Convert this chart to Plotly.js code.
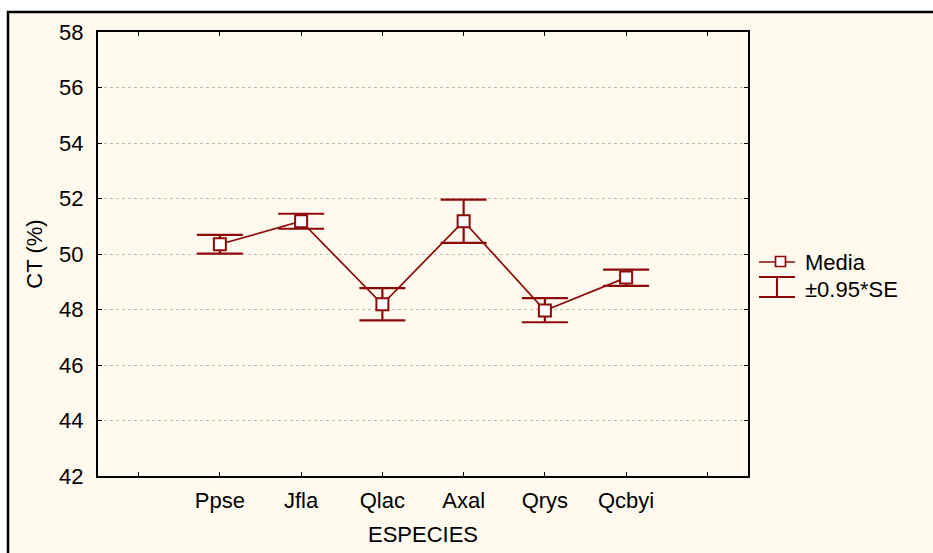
<!DOCTYPE html>
<html>
<head>
<meta charset="utf-8">
<script src="https://cdn.plot.ly/plotly-3.0.1.min.js"></script>
<style>
html,body{margin:0;padding:0;background:#ffffff;}
#chart{width:933px;height:553px;}
</style>
</head>
<body>
<div id="chart"></div>
<script>
// ---- data ----
const categories = ["Ppse", "Jfla", "Qlac", "Axal", "Qrys", "Qcbyi"];
const means      = [50.35, 51.18, 48.19, 51.18, 47.96, 49.15];
const errUpper   = [0.34, 0.27, 0.58, 0.78, 0.45, 0.29];
const errLower   = [0.34, 0.27, 0.58, 0.78, 0.42, 0.30];
const yTicks     = [42, 44, 46, 48, 50, 52, 54, 56, 58];
const legendLabels = ["Media", "±0.95*SE"];

// ---- layout geometry ----
const W = 933, H = 553;
const M = {l: 98, r: 185, t: 32, b: 77};
const PW = W - M.l - M.r, PH = H - M.t - M.b;
const px = x => (x - M.l) / PW;
const py = y => 1 - (y - M.t) / PH;

const red = "#8B0A0A";
const cream = "#FFF9EE";
const FONT = "Liberation Sans, Arial, sans-serif";
const FS = 22;

const xIdx = categories.map((c, i) => i + 1);
const tickvals = [];
const ticktext = [];
for (let i = 0; i <= categories.length + 1; i++) {
  tickvals.push(i);
  ticktext.push(i >= 1 && i <= categories.length ? categories[i - 1] : "");
}

const trace = {
  x: xIdx,
  y: means,
  type: "scatter",
  mode: "lines+markers",
  line: {color: red, width: 1.7},
  marker: {symbol: "square", size: 12, color: "#ffffff", line: {color: red, width: 2}},
  error_y: {type: "data", symmetric: false, array: errUpper, arrayminus: errLower,
            color: red, thickness: 2.2, width: 23},
  showlegend: false,
  hoverinfo: "x+y"
};

const shapes = [
  // outer frame
  {type: "rect", xref: "paper", yref: "paper", layer: "below",
   x0: px(8), x1: px(W + 20), y0: py(H + 20), y1: py(12),
   fillcolor: cream, line: {color: "#000000", width: 2.5}},
  // legend: Media
  {type: "line", xref: "paper", yref: "paper", x0: px(759), x1: px(795), y0: py(262), y1: py(262),
   line: {color: red, width: 1.7}},
  {type: "rect", xref: "paper", yref: "paper", x0: px(775.5), x1: px(785.5), y0: py(266.5), y1: py(256.5),
   fillcolor: "#ffffff", line: {color: red, width: 1.7}},
  // legend: SE
  {type: "line", xref: "paper", yref: "paper", x0: px(759), x1: px(795), y0: py(277), y1: py(277),
   line: {color: red, width: 2}},
  {type: "line", xref: "paper", yref: "paper", x0: px(777), x1: px(777), y0: py(277), y1: py(297),
   line: {color: red, width: 2}},
  {type: "line", xref: "paper", yref: "paper", x0: px(759), x1: px(795), y0: py(297), y1: py(297),
   line: {color: red, width: 2}}
];

const annotations = [
  {xref: "paper", yref: "paper", x: px(803), y: py(262), text: legendLabels[0], showarrow: false,
   xanchor: "left", yanchor: "middle", font: {family: FONT, size: FS, color: "#000"}},
  {xref: "paper", yref: "paper", x: px(803), y: py(289), text: legendLabels[1], showarrow: false,
   xanchor: "left", yanchor: "middle", font: {family: FONT, size: FS, color: "#000"}}
];

const layout = {
  width: W, height: H,
  margin: M,
  paper_bgcolor: "#ffffff",
  plot_bgcolor: "#ffffff",
  font: {family: FONT, size: FS, color: "#000000"},
  xaxis: {
    range: [-0.5, categories.length + 1.5],
    tickmode: "array", tickvals: tickvals, ticktext: ticktext,
    tickfont: {family: FONT, size: FS, color: "#000"},
    ticks: "inside", ticklen: 4, tickwidth: 1, tickcolor: "#000",
    showline: true, linecolor: "#000", linewidth: 2, mirror: "ticks",
    showgrid: false, zeroline: false,
    ticklabelstandoff: 4,
    title: {text: "ESPECIES", font: {family: FONT, size: FS}, standoff: 14}
  },
  yaxis: {
    range: [42, 58],
    tickmode: "array", tickvals: yTicks,
    tickfont: {family: FONT, size: FS, color: "#000"},
    ticks: "inside", ticklen: 4, tickwidth: 1, tickcolor: "#000",
    showline: true, linecolor: "#000", linewidth: 2, mirror: "ticks",
    showgrid: true, gridcolor: "#bdbdbd", griddash: "dot", gridwidth: 1,
    zeroline: false,
    ticklabelstandoff: 8,
    title: {text: "CT (%)", font: {family: FONT, size: FS}, standoff: 10}
  },
  shapes: shapes,
  annotations: annotations
};

Plotly.newPlot("chart", [trace], layout, {displayModeBar: false, staticPlot: true});
</script>
</body>
</html>
